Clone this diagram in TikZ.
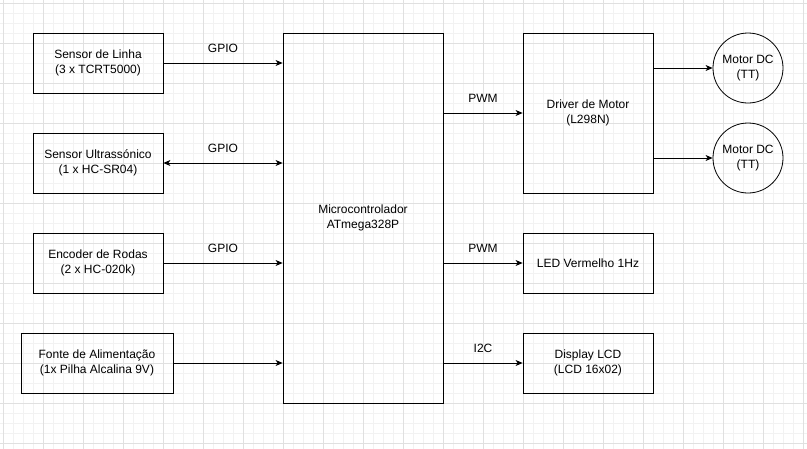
\documentclass[tikz,border=0pt]{standalone}
\usepackage{fontspec}
\setmainfont{Liberation Sans}
\usetikzlibrary{arrows.meta}
\begin{document}
\begin{tikzpicture}[x=1pt,y=-1pt,
    font=\fontsize{12pt}{15pt}\selectfont,
    blk/.style={draw, line width=0.8pt, align=center, inner sep=2pt},
    motor/.style={draw, circle, line width=0.8pt, align=center, minimum size=70pt, inner sep=0pt},
    lbl/.style={midway, above=7pt},
    link/.style={line width=0.8pt, -{Stealth[length=7pt,width=6pt,inset=2pt]}},
    minorgrid/.style={draw=black!5, line width=0.6pt},
    majorgrid/.style={draw=black!12, line width=0.6pt}]
  \useasboundingbox (0,0) rectangle (807,448);
  \fill[white] (0,0) rectangle (807,448);
  \begin{scope}
    \clip (0,0) rectangle (807,448);
    \draw[minorgrid, step=10pt, shift={(3,3)}] (-10pt,10pt) grid (810pt,-450pt);
    \draw[majorgrid, step=40pt, shift={(3,3)}] (-40pt,40pt) grid (840pt,-480pt);
  \end{scope}
  % blocos
  \node[blk, minimum width=130pt, minimum height=60pt] (linha) at (98,63) {Sensor de Linha\\(3 x TCRT5000)};
  \node[blk, minimum width=130pt, minimum height=60pt] (ultra) at (98,163) {Sensor Ultrassónico\\(1 x HC-SR04)};
  \node[blk, minimum width=130pt, minimum height=60pt] (encoder) at (98,263) {Encoder de Rodas\\(2 x HC-020k)};
  \node[blk, minimum width=152pt, minimum height=60pt] (fonte) at (97,363) {Fonte de Alimentação\\(1x Pilha Alcalina 9V)};
  \node[blk, minimum width=160pt, minimum height=370pt] (mcu) at (363,218) {Microcontrolador\\ATmega328P};
  \node[blk, minimum width=130pt, minimum height=160pt] (driver) at (588,113) {Driver de Motor\\(L298N)};
  \node[blk, minimum width=130pt, minimum height=60pt] (led) at (588,263) {LED Vermelho 1Hz};
  \node[blk, minimum width=130pt, minimum height=60pt] (lcd) at (588,363) {Display LCD\\(LCD 16x02)};
  \node[motor] (m1) at (748,68) {Motor DC\\(TT)};
  \node[motor] (m2) at (748,158) {Motor DC\\(TT)};
  % ligacoes
  \begin{scope}[link]
    \draw (linha.east) -- (linha.east -| mcu.west) node[lbl] (gpio1) {GPIO};
    \draw[{Stealth[length=7pt,width=6pt,inset=2pt]}-{Stealth[length=7pt,width=6pt,inset=2pt]}] (ultra.east) -- (ultra.east -| mcu.west) node[lbl] (gpio2) {GPIO};
    \draw (encoder.east) -- (encoder.east -| mcu.west) node[lbl] (gpio3) {GPIO};
    \draw (fonte.east) -- (fonte.east -| mcu.west);
    \draw (mcu.east |- driver.west) -- (driver.west) node[lbl] (pwm1) {PWM};
    \draw (mcu.east |- led.west) -- (led.west) node[lbl] (pwm2) {PWM};
    \draw (mcu.east |- lcd.west) -- (lcd.west) node[lbl] (i2c) {I2C};
    \draw (driver.east |- m1.west) -- (m1.west);
    \draw (driver.east |- m2.west) -- (m2.west);
  \end{scope}
\end{tikzpicture}
\end{document}
